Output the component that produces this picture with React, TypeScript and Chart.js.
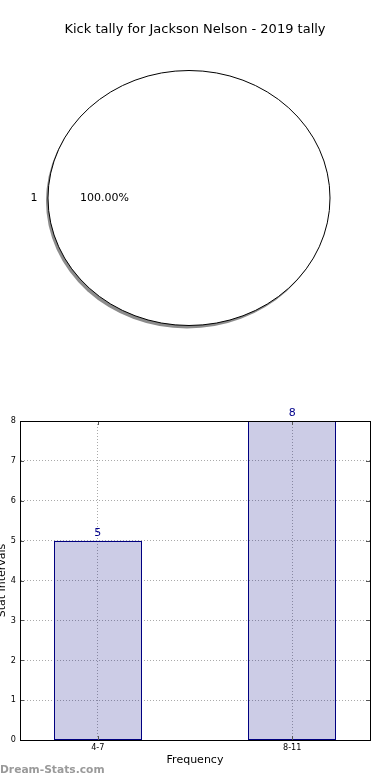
import React, { useEffect, useRef } from "react";
import { Chart, registerables } from "chart.js";

Chart.register(...registerables);

const chartTitle = "Kick tally for Jackson Nelson - 2019 tally";
const pieLabels = ["1"];
const pieValues = [1];
const barCategories = ["4-7", "8-11"];
const barValues = [5, 8];
const yMin = 0;
const yMax = 8;
const yStep = 1;
const xMin = -0.4;
const xMax = 1.4;
const xAxisTitle = "Frequency";
const yAxisTitle = "Stat Intervals";
const watermark = "Dream-Stats.com";

const FONT = "'DejaVu Sans', sans-serif";
const TICK_FONT = "'Liberation Sans Narrow', 'DejaVu Sans Condensed', 'DejaVu Sans', sans-serif";
const PIE_SX = 1.106;

const pieShapePlugin = {
  id: "pieShape",
  beforeDatasetsDraw(chart: any) {
    const arc = chart.getDatasetMeta(0).data[0] as any;
    const { x, y, outerRadius } = arc;
    const ctx = chart.ctx as CanvasRenderingContext2D;
    ctx.save();
    ctx.fillStyle = "#8c8c8c";
    ctx.beginPath();
    ctx.ellipse(x - 2, y + 3, outerRadius * PIE_SX, outerRadius, 0, 0, Math.PI * 2);
    ctx.fill();
    ctx.restore();
    ctx.save();
    ctx.translate(x, y);
    ctx.scale(PIE_SX, 1);
    ctx.translate(-x, -y);
  },
  afterDatasetsDraw(chart: any) {
    const ctx = chart.ctx as CanvasRenderingContext2D;
    ctx.restore();
    const meta = chart.getDatasetMeta(0);
    const data = chart.data.datasets[0].data as number[];
    const total = data.reduce((a, b) => a + b, 0);
    meta.data.forEach((el: any, i: number) => {
      const mid = (el.startAngle + el.endAngle) / 2;
      const R = el.outerRadius;
      ctx.save();
      ctx.strokeStyle = "#000";
      ctx.lineWidth = 1;
      ctx.beginPath();
      ctx.ellipse(el.x, el.y, R * PIE_SX, R, 0, 0, Math.PI * 2);
      ctx.stroke();
      ctx.fillStyle = "#000";
      ctx.font = `11px ${FONT}`;
      ctx.textAlign = "center";
      ctx.textBaseline = "middle";
      ctx.fillText(
        String(chart.data.labels[i]),
        el.x + Math.cos(mid) * 1.1 * R * PIE_SX,
        el.y + Math.sin(mid) * 1.1 * R
      );
      ctx.fillText(
        ((data[i] / total) * 100).toFixed(2) + "%",
        el.x + Math.cos(mid) * 0.6 * R * PIE_SX,
        el.y + Math.sin(mid) * 0.6 * R
      );
      ctx.restore();
    });
  },
};

const barExtrasPlugin = {
  id: "barExtras",
  afterDatasetsDraw(chart: any) {
    const ctx = chart.ctx as CanvasRenderingContext2D;
    const meta = chart.getDatasetMeta(0);
    ctx.save();
    ctx.strokeStyle = "#000080";
    ctx.lineWidth = 1;
    meta.data.forEach((bar: any) => {
      const x0 = Math.round(bar.x - bar.width / 2) + 0.5;
      const x1 = Math.round(bar.x + bar.width / 2) - 0.5;
      const y0 = Math.round(bar.y) + 0.5;
      const y1 = Math.round(bar.base) - 0.5;
      ctx.strokeRect(x0, y0, x1 - x0, y1 - y0);
    });
    ctx.restore();
  },
  afterDraw(chart: any) {
    const ctx = chart.ctx as CanvasRenderingContext2D;
    const { left, right, top, bottom } = chart.chartArea;
    ctx.save();
    ctx.strokeStyle = "#555";
    ctx.lineWidth = 1;
    const yScale = chart.scales.y;
    yScale.ticks.forEach((t: any) => {
      const py = Math.round(yScale.getPixelForValue(t.value)) + 0.5;
      ctx.beginPath();
      ctx.moveTo(left, py);
      ctx.lineTo(left + 4, py);
      ctx.moveTo(right, py);
      ctx.lineTo(right - 4, py);
      ctx.stroke();
    });
    const xScale = chart.scales.x;
    xScale.ticks.forEach((t: any) => {
      const px = Math.round(xScale.getPixelForValue(t.value)) + 0.5;
      ctx.beginPath();
      ctx.moveTo(px, bottom);
      ctx.lineTo(px, bottom - 4);
      ctx.moveTo(px, top);
      ctx.lineTo(px, top + 4);
      ctx.stroke();
    });
    ctx.strokeStyle = "#000";
    ctx.strokeRect(Math.round(left) + 0.5, Math.round(top) + 0.5, Math.round(right - left), Math.round(bottom - top));
    const meta = chart.getDatasetMeta(0);
    const data = chart.data.datasets[0].data as any[];
    ctx.fillStyle = "#00008B";
    ctx.font = `11px ${FONT}`;
    ctx.textAlign = "center";
    ctx.textBaseline = "alphabetic";
    meta.data.forEach((bar: any, i: number) => {
      ctx.fillText(String(data[i].y), bar.x, bar.y - 5);
    });
    ctx.restore();
  },
};

export default function App() {
  const pieRef = useRef<HTMLCanvasElement>(null);
  const barRef = useRef<HTMLCanvasElement>(null);

  useEffect(() => {
    const pie = new Chart(pieRef.current!, {
      type: "pie",
      data: {
        labels: pieLabels,
        datasets: [
          {
            data: pieValues,
            backgroundColor: "#ffffff",
            borderWidth: 0,
            hoverOffset: 0,
            offset: 0,
          } as any,
        ],
      },
      options: {
        animation: false,
        responsive: false,
        events: [],
        rotation: 90,
        layout: { padding: { left: 61.5, right: 73.5, top: 70.5, bottom: 74.5 } },
        plugins: {
          legend: { display: false },
          tooltip: { enabled: false },
          title: { display: false },
        },
      } as any,
      plugins: [pieShapePlugin],
    });

    const gridColor = "#aaaaaa";
    const bar = new Chart(barRef.current!, {
      type: "bar",
      data: {
        datasets: [
          {
            data: barValues.map((v, i) => ({ x: i, y: v })),
            backgroundColor: "rgba(0,0,128,0.2)",
            borderWidth: 0,
            barPercentage: 0.45,
            categoryPercentage: 1,
          } as any,
        ],
      },
      options: {
        animation: false,
        responsive: false,
        events: [],
        layout: { padding: { top: 21, right: 20, left: 0, bottom: 0 } },
        plugins: {
          legend: { display: false },
          tooltip: { enabled: false },
        },
        scales: {
          x: {
            type: "linear",
            min: xMin,
            max: xMax,
            offset: false,
            afterBuildTicks: (s: any) => {
              s.ticks = barCategories.map((_c, i) => ({ value: i }));
            },
            grid: { offset: false, color: gridColor, drawTicks: false, lineWidth: 1 },
            border: { color: "#000", dash: [1, 2] },
            ticks: {
              font: { family: TICK_FONT, size: 9 },
              color: "#000",
              padding: 2,
              autoSkip: false,
              maxRotation: 0,
              callback: (v: any) => barCategories[v] ?? "",
            },
            title: {
              display: true,
              text: xAxisTitle,
              color: "#000",
              font: { family: FONT, size: 11 },
              padding: { top: 0, bottom: 13 },
            },
            afterFit: (s: any) => {
              s.height = 40;
            },
          },
          y: {
            min: yMin,
            max: yMax,
            grid: { color: gridColor, drawTicks: false, lineWidth: 1 },
            border: { color: "#000", dash: [1, 2] },
            ticks: { stepSize: yStep, font: { family: TICK_FONT, size: 9 }, color: "#000", padding: 4 },
            title: {
              display: true,
              text: yAxisTitle,
              color: "#000",
              font: { family: FONT, size: 11 },
              padding: { top: -4, bottom: 0 },
            },
            afterFit: (s: any) => {
              s.width = 20;
            },
          },
        },
      } as any,
      plugins: [barExtrasPlugin],
    });

    return () => {
      pie.destroy();
      bar.destroy();
    };
  }, []);

  return (
    <div style={{ position: "absolute", left: 0, top: 0, width: 390, height: 780, background: "#fff", overflow: "hidden" }}>
      <canvas ref={pieRef} width={390} height={400} style={{ position: "absolute", left: 0, top: 0, width: 390, height: 400 }} />
      <canvas ref={barRef} width={390} height={380} style={{ position: "absolute", left: 0, top: 400, width: 390, height: 380 }} />
      <div
        style={{
          position: "absolute",
          left: 0,
          top: 21,
          width: 390,
          textAlign: "center",
          fontFamily: FONT,
          fontSize: 13,
          color: "#000",
          lineHeight: "16px",
        }}
      >
        {chartTitle}
      </div>
      <div
        style={{
          position: "absolute",
          left: 0,
          top: 762,
          fontFamily: FONT,
          fontWeight: 700,
          fontSize: 10.7,
          color: "#9a9a9a",
          lineHeight: "16px",
        }}
      >
        {watermark}
      </div>
    </div>
  );
}
